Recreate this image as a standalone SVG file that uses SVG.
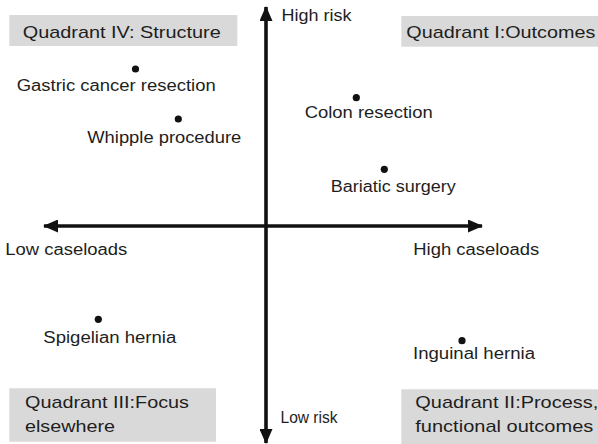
<svg xmlns="http://www.w3.org/2000/svg" width="598" height="444" viewBox="0 0 598 444">
  <style>
    .box { fill: #d9d9d9; }
    .t { font-family: "Liberation Sans", Arial, sans-serif; font-size: 16px; fill: #1e1e1e; }
    .q { font-size: 17px; }
    .dot { fill: #111; }
    .axis { stroke: #111; stroke-width: 3.6; fill: none; }
  </style>
  <defs>
    <marker id="head" viewBox="0 0 15 13" refX="14" refY="6.5" markerWidth="15" markerHeight="13" markerUnits="userSpaceOnUse" orient="auto">
      <path d="M0,0 L15,6.5 L0,13 Z" fill="#111"/>
    </marker>
  </defs>
  <rect width="598" height="444" fill="#fff"/>

  <!-- axes -->
  <g id="connectors">
    <line class="axis" x1="266" y1="226" x2="266" y2="7" marker-end="url(#head)"/>
    <line class="axis" x1="266" y1="226" x2="266" y2="443" marker-end="url(#head)"/>
    <line class="axis" x1="266" y1="226" x2="44" y2="226" marker-end="url(#head)"/>
    <line class="axis" x1="266" y1="226" x2="482" y2="226" marker-end="url(#head)"/>
  </g>

  <!-- axis labels -->
  <g id="high-risk"><text class="t" x="281.5" y="21" textLength="70" lengthAdjust="spacingAndGlyphs">High risk</text></g>
  <g id="low-risk"><text class="t" x="280.5" y="423" textLength="57" lengthAdjust="spacingAndGlyphs">Low risk</text></g>
  <g id="low-caseloads"><text class="t" x="5.3" y="255" textLength="122" lengthAdjust="spacingAndGlyphs">Low caseloads</text></g>
  <g id="high-caseloads"><text class="t" x="413.3" y="255" textLength="126" lengthAdjust="spacingAndGlyphs">High caseloads</text></g>

  <!-- quadrant headers -->
  <g id="quadrant-4">
    <rect class="box" x="9.3" y="15" width="228" height="31"/>
    <text class="t q" x="22.7" y="37.5" textLength="198" lengthAdjust="spacingAndGlyphs">Quadrant IV: Structure</text>
  </g>
  <g id="quadrant-1">
    <rect class="box" x="401.3" y="16" width="196.7" height="30.7"/>
    <text class="t q" x="406.3" y="37.5" textLength="189" lengthAdjust="spacingAndGlyphs">Quadrant I:Outcomes</text>
  </g>
  <g id="quadrant-3">
    <rect class="box" x="9.3" y="388.3" width="206.7" height="53.4"/>
    <text class="t q" x="25" y="407.5" textLength="164" lengthAdjust="spacingAndGlyphs">Quadrant III:Focus</text>
    <text class="t q" x="25" y="431.7" textLength="90" lengthAdjust="spacingAndGlyphs">elsewhere</text>
  </g>
  <g id="quadrant-2">
    <rect class="box" x="401.3" y="389.3" width="196.7" height="54.7"/>
    <text class="t q" x="415.3" y="408.3" textLength="183" lengthAdjust="spacingAndGlyphs">Quadrant II:Process,</text>
    <text class="t q" x="415.3" y="431.7" textLength="178" lengthAdjust="spacingAndGlyphs">functional outcomes</text>
  </g>

  <!-- procedures -->
  <g id="gastric">
    <circle class="dot" cx="135.5" cy="69" r="3.6"/>
    <text class="t" x="16.7" y="90.5" textLength="199" lengthAdjust="spacingAndGlyphs">Gastric cancer resection</text>
  </g>
  <g id="whipple">
    <circle class="dot" cx="178.3" cy="119" r="3.6"/>
    <text class="t" x="87.3" y="143.3" textLength="154" lengthAdjust="spacingAndGlyphs">Whipple procedure</text>
  </g>
  <g id="colon">
    <circle class="dot" cx="356.3" cy="97.7" r="3.6"/>
    <text class="t" x="304.7" y="118.3" textLength="128" lengthAdjust="spacingAndGlyphs">Colon resection</text>
  </g>
  <g id="bariatic">
    <circle class="dot" cx="384.3" cy="169.3" r="3.6"/>
    <text class="t" x="330.7" y="192" textLength="125" lengthAdjust="spacingAndGlyphs">Bariatic surgery</text>
  </g>
  <g id="spigelian">
    <circle class="dot" cx="98.3" cy="319.3" r="3.6"/>
    <text class="t" x="43.3" y="343.3" textLength="133" lengthAdjust="spacingAndGlyphs">Spigelian hernia</text>
  </g>
  <g id="inguinal">
    <circle class="dot" cx="462" cy="340.7" r="3.6"/>
    <text class="t" x="413" y="359.3" textLength="122" lengthAdjust="spacingAndGlyphs">Inguinal hernia</text>
  </g>
</svg>
